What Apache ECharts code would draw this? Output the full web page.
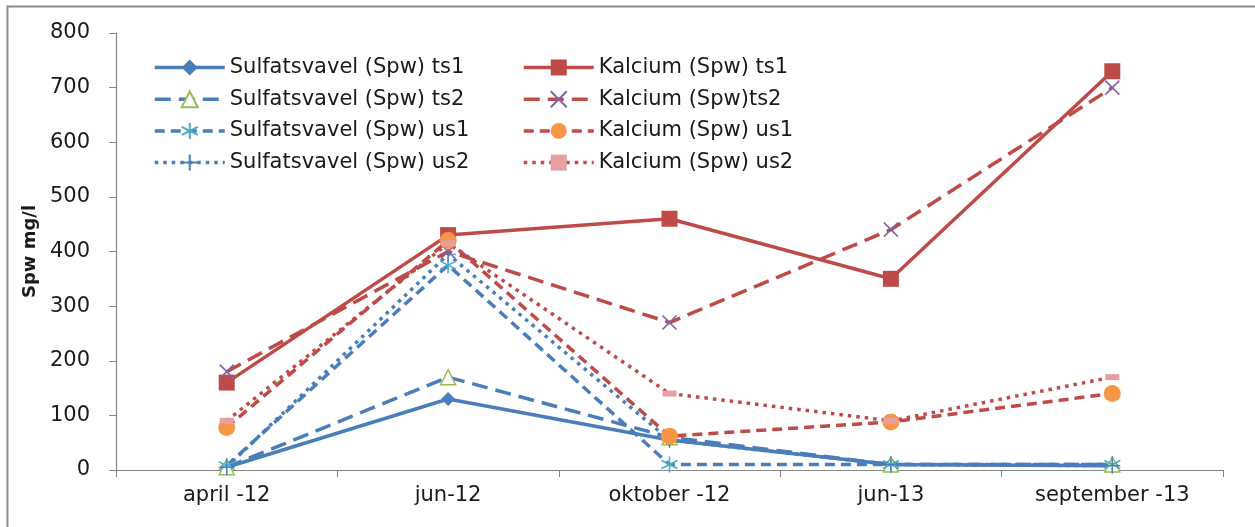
<!DOCTYPE html>
<html><head><meta charset="utf-8">
<script src="https://cdn.jsdelivr.net/npm/echarts@6/dist/echarts.min.js"></script>
<style>html,body{margin:0;padding:0;background:#fff}#c{width:1255px;height:527px}</style>
</head><body><div id="c"></div>
<script>
const categories = ['april -12', 'jun-12', 'oktober -12', 'jun-13', 'september -13'];
const yTicks = [0, 100, 200, 300, 400, 500, 600, 700, 800];
const sulfTs1 = [5, 130, 55, 10, 8];
const sulfTs2 = [5, 170, 60, 10, 10];
const sulfUs1 = [8, 375, 10, 10, 10];
const sulfUs2 = [5, 395, 55, 10, 8];
const kalcTs1 = [160, 430, 460, 350, 730];
const kalcTs2 = [180, 400, 270, 440, 700];
const kalcUs1 = [78, 420, 62, 88, 140];
const kalcUs2 = [90, 415, 140, 90, 170];
const seriesNames = ['Sulfatsvavel (Spw) ts1', 'Sulfatsvavel (Spw) ts2', 'Sulfatsvavel (Spw) us1', 'Sulfatsvavel (Spw) us2',
  'Kalcium (Spw) ts1', 'Kalcium (Spw)ts2', 'Kalcium (Spw) us1', 'Kalcium (Spw) us2'];

const BLUE = '#4A7EBB', RED = '#BE4B48';
const FONT = 'DejaVu Sans';
const ASTER = 'path://M5,0L5,10M0.7,2.5L9.3,7.5M9.3,2.5L0.7,7.5';
const PLUS = 'path://M5,0L5,10M0,5L10,5';
const XMARK = 'path://M0,0L10,10M10,0L0,10';

function mk(name, data, color, dash, symbol, size, itemStyle, z) {
  return {
    name, type: 'line', data, symbol, symbolSize: size, z: z,
    lineStyle: { color, width: 3.5, type: dash, cap: 'butt' },
    itemStyle: itemStyle,
    emphasis: { disabled: true },
    animation: false
  };
}
const LONG = [16, 8], MED = [10, 6], DOT = [3.5, 5];

const legendCommon = { orient: 'vertical', top: 52, itemWidth: 70, itemHeight: 20, itemGap: 10.7,
  lineStyle: { width: 3.5 },
  textStyle: { fontFamily: FONT, fontSize: 21, color: '#1a1a1a' } };

const chart = echarts.init(document.getElementById('c'));
chart.setOption({
  backgroundColor: '#fff',
  animation: false,
  graphic: [{ type: 'rect', left: 5, top: 4, shape: { width: 1300, height: 600 }, style: { fill: 'none', stroke: '#8a8a8a', lineWidth: 2 }, silent: true }],
  grid: { left: 116, right: 32, top: 33, bottom: 57 },
  legend: [
    Object.assign({ data: seriesNames.slice(0, 4), left: 148 }, legendCommon),
    Object.assign({ data: seriesNames.slice(4), left: 517 }, legendCommon)
  ],
  xAxis: {
    type: 'category', data: categories, boundaryGap: true,
    axisLine: { lineStyle: { color: '#868686', width: 1.2 } },
    axisTick: { show: true, length: 7, lineStyle: { color: '#868686' } },
    axisLabel: { fontFamily: FONT, fontSize: 21, color: '#1a1a1a', margin: 15 },
    splitLine: { show: false }
  },
  yAxis: {
    type: 'value', min: yTicks[0], max: yTicks[yTicks.length - 1], interval: 100,
    name: 'Spw mg/l', nameLocation: 'middle', nameGap: 76, nameRotate: 90,
    nameTextStyle: { fontFamily: FONT, fontSize: 18, fontWeight: 'bold', color: '#1a1a1a' },
    axisLine: { show: true, lineStyle: { color: '#868686', width: 1.2 } },
    axisTick: { show: true, length: 7, lineStyle: { color: '#868686' } },
    axisLabel: { fontFamily: FONT, fontSize: 21, color: '#1a1a1a', margin: 26 },
    splitLine: { show: false }
  },
  series: [
    mk(seriesNames[0], sulfTs1, BLUE, 'solid', 'diamond', 14, { color: BLUE }, 2),
    mk(seriesNames[1], sulfTs2, BLUE, LONG, 'triangle', 15, { color: '#fff', borderColor: '#9BBB59', borderWidth: 1.5 }, 2),
    mk(seriesNames[2], sulfUs1, BLUE, MED, ASTER, 16, { color: 'none', borderColor: '#4BACC6', borderWidth: 1.6 }, 2),
    mk(seriesNames[3], sulfUs2, BLUE, DOT, PLUS, 16, { color: 'none', borderColor: BLUE, borderWidth: 1.2 }, 2),
    mk(seriesNames[4], kalcTs1, RED, 'solid', 'rect', 16, { color: RED }, 3),
    mk(seriesNames[5], kalcTs2, RED, LONG, XMARK, 14, { color: 'none', borderColor: '#8064A2', borderWidth: 1.6 }, 3),
    mk(seriesNames[6], kalcUs1, RED, MED, 'circle', 17, { color: '#F79646' }, 3),
    mk(seriesNames[7], kalcUs2, RED, DOT, 'rect', [14, 6], { color: '#E6A0A2' }, 3)
  ]
});
</script></body></html>
